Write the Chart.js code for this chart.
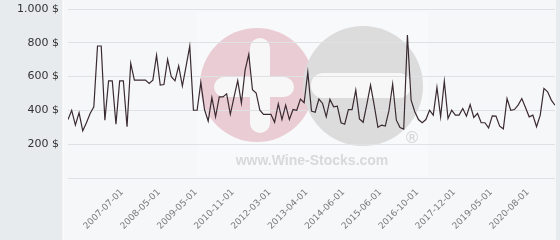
<!DOCTYPE html>
<html>
<head>
<meta charset="utf-8">
<script src="https://cdn.jsdelivr.net/npm/chart.js@4.4.1/dist/chart.umd.min.js"></script>
<style>
  html, body { margin: 0; padding: 0; background: #e7ebee; }
  #wrap { width: 560px; height: 240px; position: relative; }
</style>
</head>
<body>
<div id="wrap"><canvas id="chart"></canvas></div>
<script>
// price history, one value per sale
const prices = [
  346, 400, 313, 386, 279, 327, 382, 421, 781, 781,
  342, 575, 575, 318, 575, 575, 303, 678, 579, 579,
  579, 579, 560, 579, 727, 550, 553, 702, 599, 575,
  664, 544, 660, 780, 401, 401, 566, 405, 337, 476,
  362, 480, 480, 498, 377, 478, 576, 443, 638, 731,
  522, 503, 401, 377, 377, 377, 330, 439, 346, 431,
  346, 405, 401, 467, 445, 626, 396, 389, 467, 441,
  362, 465, 421, 425, 327, 318, 405, 405, 520, 350,
  330, 436, 550, 430, 300, 313, 307, 400, 556, 342,
  299, 289, 846, 460, 392, 346, 327, 346, 401, 372,
  536, 362, 573, 352, 401, 372, 372, 411, 366, 435,
  358, 382, 327, 327, 297, 368, 366, 307, 291, 470,
  401, 405, 431, 470, 417, 362, 372, 303, 372, 530,
  510, 461, 431
];

// dates shown on the x axis and the sale they sit under
const tickLabels = [
  "2007-07-01", "2008-05-01", "2009-05-01", "2010-11-01",
  "2012-03-01", "2013-04-01", "2014-06-01", "2015-06-01",
  "2016-10-01", "2017-12-01", "2019-05-01", "2020-08-01"
];
const tickIndex = [14, 24, 34, 44, 54, 64, 74, 84, 94, 104, 114, 124];

const yTicks = [0, 200, 400, 600, 800, 1000];

function formatPrice(v) {
  return String(v).replace(/\B(?=(\d{3})+(?!\d))/g, ".") + " $";
}

function roundRect(ctx, x, y, w, h, r) {
  ctx.beginPath();
  ctx.moveTo(x + r, y);
  ctx.arcTo(x + w, y, x + w, y + h, r);
  ctx.arcTo(x + w, y + h, x, y + h, r);
  ctx.arcTo(x, y + h, x, y, r);
  ctx.arcTo(x, y, x + w, y, r);
  ctx.closePath();
  ctx.fill();
}

// panel background + faded logo behind the grid
const backdrop = {
  id: "backdrop",
  beforeDraw(chart) {
    const ctx = chart.ctx;
    ctx.save();
    ctx.fillStyle = "#e7ebee";
    ctx.fillRect(0, 0, chart.width, chart.height);
    ctx.fillStyle = "#f6f7f9";
    ctx.fillRect(63, 0, 493, chart.height);
    ctx.fillStyle = "#ffffff";
    ctx.fillRect(62.5, 0, 1, chart.height);

    ctx.fillStyle = "rgba(255,255,255,0.25)";
    ctx.fillRect(197, 12, 231, 164);

    // pink circle with cross
    ctx.fillStyle = "#eacdd4";
    ctx.beginPath();
    ctx.arc(257, 85, 57, 0, Math.PI * 2);
    ctx.fill();
    // grey circle with bar
    ctx.fillStyle = "#dcdcdd";
    ctx.beginPath();
    ctx.arc(363, 86, 60, 0, Math.PI * 2);
    ctx.fill();

    ctx.fillStyle = "#f7f7f8";
    roundRect(ctx, 250, 38, 20, 95, 10);
    roundRect(ctx, 214, 77, 80, 20, 10);
    roundRect(ctx, 311, 73, 100, 25, 12);

    ctx.fillStyle = "#d4d4d6";
    ctx.font = "16px 'DejaVu Sans'";
    ctx.textAlign = "center";
    ctx.textBaseline = "middle";
    ctx.fillText("\u00AE", 412, 139);

    ctx.fillStyle = "#d9d9db";
    ctx.font = "bold 14px 'Liberation Sans'";
    ctx.fillText("www.Wine-Stocks.com", 312, 161);
    ctx.restore();
  }
};

const ctx = document.getElementById("chart").getContext("2d");
new Chart(ctx, {
  type: "line",
  data: {
    datasets: [
      {
        data: prices.map((v, i) => ({ x: i, y: v })),
        borderColor: "#3a2a31",
        borderWidth: 1.2,
        pointRadius: 0,
        tension: 0,
        fill: false
      }
    ]
  },
  options: {
    responsive: true,
    maintainAspectRatio: false,
    animation: false,
    layout: { padding: { top: 9, right: 5, left: 0, bottom: 0 } },
    plugins: {
      legend: { display: false },
      tooltip: { enabled: false }
    },
    scales: {
      x: {
        type: "linear",
        min: 0,
        max: prices.length - 1,
        grid: { display: false, drawTicks: false },
        border: { display: false },
        afterBuildTicks: (axis) => {
          axis.ticks = tickIndex.map((v) => ({ value: v }));
        },
        afterFit: (axis) => {
          axis.height = 62;
          axis.paddingLeft = 0;
          axis.paddingRight = 0;
        },
        ticks: {
          autoSkip: false,
          minRotation: 45,
          maxRotation: 45,
          padding: 9,
          labelOffset: 2.5,
          color: "#7a7a7a",
          font: { family: "'DejaVu Sans'", size: 9 },
          callback: (v) => tickLabels[tickIndex.indexOf(v)]
        }
      },
      y: {
        min: 0,
        max: 1000,
        grid: { color: "#dfe2e5", drawTicks: false },
        border: { display: false },
        afterBuildTicks: (axis) => {
          axis.ticks = yTicks.map((v) => ({ value: v }));
        },
        afterFit: (axis) => {
          axis.width = 68;
          axis.paddingTop = 0;
          axis.paddingBottom = 0;
        },
        ticks: {
          padding: 9,
          color: "#333333",
          font: { family: "'DejaVu Sans'", size: 11 },
          callback: (v) => (v === 0 ? "" : formatPrice(v))
        }
      }
    }
  },
  plugins: [backdrop]
});
</script>
</body>
</html>
